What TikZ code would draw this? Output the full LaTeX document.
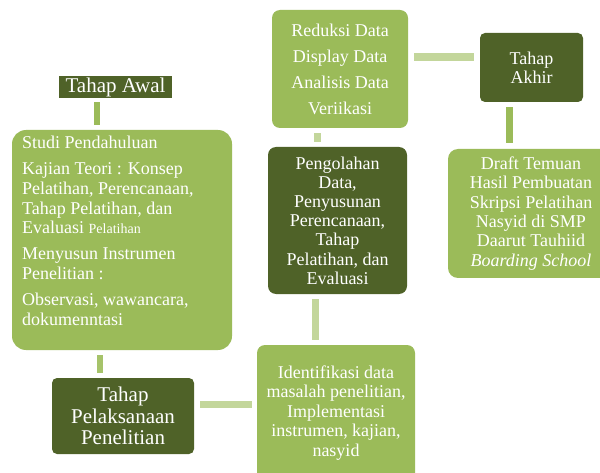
\documentclass[tikz,border=0pt]{standalone}
\usepackage{fontspec}
\setmainfont{Liberation Serif}
\definecolor{lightg}{HTML}{9BBB59}
\definecolor{darkg}{HTML}{4F6228}
\definecolor{paleg}{HTML}{C3D69B}
\definecolor{midg}{HTML}{A6C36A}
\begin{document}
\begin{tikzpicture}[x=1pt,y=-1pt,
  box/.style={fill=lightg, text=white, inner sep=0pt, align=center, rounded corners=8pt,
    font=\fontsize{18}{19.5}\selectfont},
  darkbox/.style={box, fill=darkg},
  txt/.style={text=white, inner sep=0pt, font=\fontsize{18}{19.7}\selectfont},
  conn/.style={line width=7pt, draw=paleg},
  connm/.style={line width=6pt, draw=lightg},
  bigfont/.style={font=\fontsize{21}{21.5}\selectfont}]
\useasboundingbox (0,0) rectangle (600,473);
\clip (0,0) rectangle (600,473);

% boxes
\node[darkbox, sharp corners, bigfont, minimum width=113pt, minimum height=22pt] (awal) at (115.5,87) {Tahap Awal};
\node[box, rounded corners=14pt, minimum width=220pt, minimum height=220pt] (studi) at (122,240) {};
\node[txt, anchor=north west, align=left] (studitxt) at (22,136) {Studi Pendahuluan\\[6.3pt]
Kajian Teori : Konsep\\
Pelatihan, Perencanaan,\\
Tahap Pelatihan, dan\\
Evaluasi {\fontsize{14}{19.7}\selectfont Pelatihan}\\[6.3pt]
Menyusun Instrumen\\
Penelitian :\\[6.3pt]
Observasi, wawancara,\\
dokumenntasi};
\node[darkbox, rounded corners=5pt, bigfont, minimum width=142pt, minimum height=76pt] (pelak) at (123,416) {Tahap\\ Pelaksanaan\\ Penelitian};
\node[box, minimum width=158pt, minimum height=136pt] (ident) at (336,413) {Identifikasi data\\ masalah penelitian,\\ Implementasi\\ instrumen, kajian,\\ nasyid};
\node[darkbox, font=\fontsize{18}{19.2}\selectfont, minimum width=139pt, minimum height=147pt] (pengol) at (337.5,220.5) {Pengolahan\\ Data,\\ Penyusunan\\ Perencanaan,\\ Tahap\\ Pelatihan, dan\\ Evaluasi};
\node[box, font=\fontsize{18}{26}\selectfont, minimum width=136pt, minimum height=118pt] (redu) at (340,69) {Reduksi Data\\ Display Data\\ Analisis Data\\ Veriikasi};
\node[darkbox, rounded corners=5pt, font=\fontsize{18}{19}\selectfont, minimum width=103pt, minimum height=69pt] (akhir) at (531.5,67.5) {Tahap\\ Akhir};
\node[box, rounded corners=10pt, font=\fontsize{18}{19.3}\selectfont, minimum width=166pt, minimum height=129pt] (draft) at (531,213.5) {Draft Temuan\\ Hasil Pembuatan\\ Skripsi Pelatihan\\ Nasyid di SMP\\ Daarut Tauhiid\\ \textit{Boarding School}};

% connectors
\draw[connm, shorten <=4pt, shorten >=5pt] ([xshift=-19pt]awal.south) -- ([xshift=-25.5pt]studi.north);
\draw[connm, draw=midg, shorten <=5pt, shorten >=5pt] ([xshift=-22pt]studi.south) -- ([xshift=-23pt]pelak.north);
\draw[conn, shorten <=6pt, shorten >=5pt] ([yshift=12pt]pelak.east) -- ([yshift=9pt]ident.west);
\draw[conn, shorten <=5pt, shorten >=5pt] ([xshift=-20.5pt]ident.north) -- ([xshift=-22pt]pengol.south);
\draw[conn, shorten <=5pt, shorten >=5pt] ([xshift=-20pt]pengol.north) -- ([xshift=-22.5pt]redu.south);
\draw[conn, line width=8pt, shorten <=6pt, shorten >=6pt] ([yshift=12pt]redu.east) -- ([yshift=10.5pt]akhir.west);
\draw[connm, line width=7pt, shorten <=5pt, shorten >=6pt] ([xshift=-22pt]akhir.south) -- ([xshift=-21.5pt]draft.north);
\end{tikzpicture}
\end{document}
